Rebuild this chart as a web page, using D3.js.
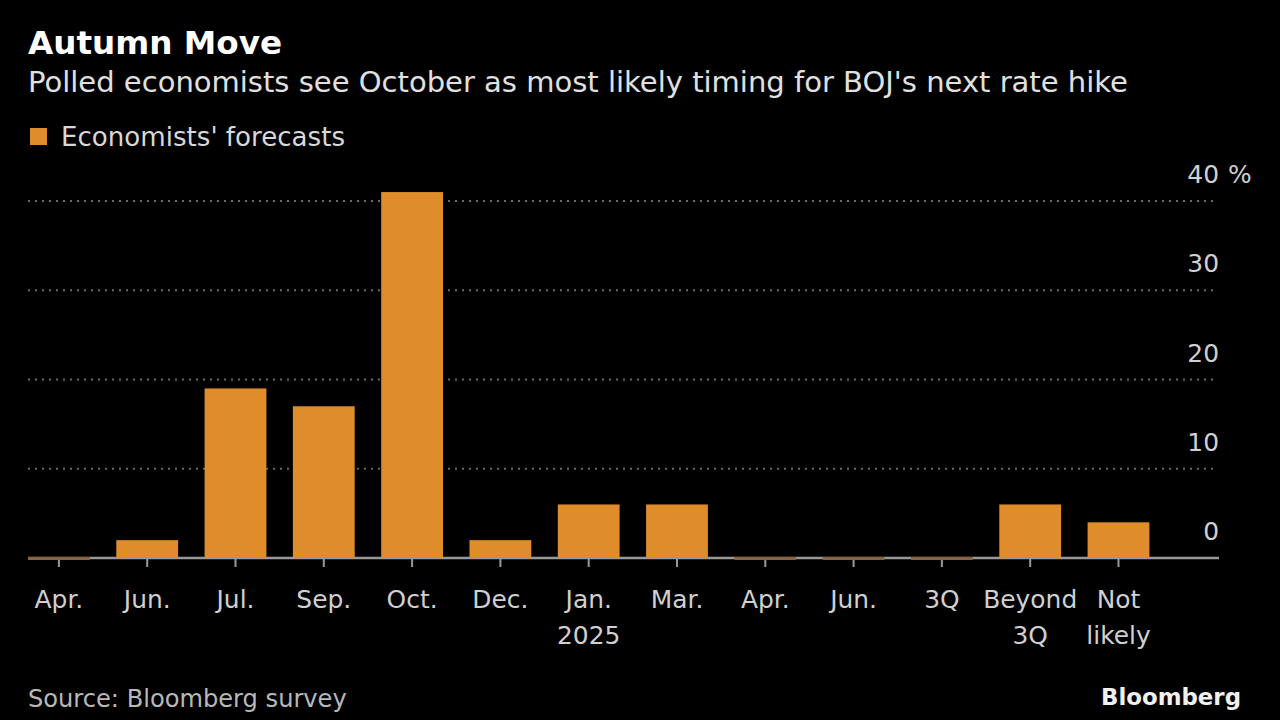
<!DOCTYPE html>
<html>
<head>
<meta charset="utf-8">
<script src="https://cdn.jsdelivr.net/npm/d3@7"></script>
<style>
  html, body { margin: 0; padding: 0; background: #000; }
  svg { display: block; }
  text { font-family: "DejaVu Sans", sans-serif; }
</style>
</head>
<body>
<svg id="chart" width="1280" height="720"></svg>
<script>
const categories = ["Apr.", "Jun.", "Jul.", "Sep.", "Oct.", "Dec.", "Jan.\n2025", "Mar.", "Apr.", "Jun.", "3Q", "Beyond\n3Q", "Not\nlikely"];
const forecasts = [0, 2, 19, 17, 41, 2, 6, 6, 0, 0, 0, 6, 4];
const yTicks = [0, 10, 20, 30, 40];

const title = "Autumn Move";
const subtitle = "Polled economists see October as most likely timing for BOJ's next rate hike";
const legendLabel = "Economists' forecasts";
const source = "Source: Bloomberg survey";

const W = 1280, H = 720;
const svg = d3.select("#chart");
svg.append("rect").attr("width", W).attr("height", H).attr("fill", "#000");

const BAR = "#df8d2a";
const idx = categories.map((_, i) => i);

// scale font so the text spans the reference width
function fit(sel, target) {
  const w = sel.node().getComputedTextLength();
  const fs = parseFloat(sel.attr("font-size"));
  sel.attr("font-size", (fs * target / w).toFixed(2));
  return sel;
}

const x = d3.scaleBand().domain(idx).range([28, 1149.4]).paddingInner(0.3).paddingOuter(0);
const y = d3.scaleLinear().domain([0, 40]).range([558, 201]);

// measure axis font size from "Beyond" (~94px wide in reference)
const probe = svg.append("text").attr("font-size", 24).text("Beyond");
fit(probe, 94);
const AX = parseFloat(probe.attr("font-size"));
probe.remove();

// gridlines
svg.append("g").selectAll("line").data(yTicks.filter(d => d > 0)).join("line")
  .attr("x1", 28).attr("x2", 1218)
  .attr("y1", d => y(d)).attr("y2", d => y(d))
  .attr("stroke", "#6a6a6a").attr("stroke-width", 2)
  .attr("stroke-dasharray", "2,5");

// y labels
svg.append("g").selectAll("text").data(yTicks).join("text")
  .attr("x", 1219).attr("y", d => y(d) - 18)
  .attr("text-anchor", "end")
  .attr("fill", "#d0d0d0").attr("font-size", AX)
  .text(d => d);
svg.append("text").attr("x", 1228).attr("y", y(40) - 18)
  .attr("fill", "#d0d0d0").attr("font-size", AX).text("%");

// x axis
const xAxis = svg.append("g").attr("transform", "translate(0,558)")
  .call(d3.axisBottom(x).tickSize(9).tickFormat(""));
xAxis.select(".domain").remove();
xAxis.selectAll(".tick line").attr("stroke", "#999").attr("stroke-width", 2);
svg.append("line").attr("x1", 28).attr("x2", 1219).attr("y1", 558).attr("y2", 558)
  .attr("stroke", "#999").attr("stroke-width", 2.5);

// x labels
svg.append("g").selectAll("text").data(idx).join("text")
  .attr("text-anchor", "middle")
  .attr("fill", "#d0d0d0").attr("font-size", AX)
  .each(function(i) {
    const lines = categories[i].split("\n");
    d3.select(this).selectAll("tspan").data(lines).join("tspan")
      .attr("x", x(i) + x.bandwidth() / 2)
      .attr("y", (d, k) => 608 + k * 36)
      .text(d => d);
  });

// bars
svg.append("g").selectAll("rect").data(idx).join("rect")
  .attr("x", i => x(i))
  .attr("width", x.bandwidth())
  .attr("y", i => forecasts[i] > 0 ? y(forecasts[i]) : y(0) - 1)
  .attr("height", i => forecasts[i] > 0 ? y(0) - y(forecasts[i]) : 3)
  .attr("fill", i => forecasts[i] > 0 ? BAR : "#8a6440");

// title etc.
fit(svg.append("text").attr("x", 28).attr("y", 54).attr("fill", "#fff")
  .attr("font-size", 30).attr("font-weight", "bold").text(title), 254);
fit(svg.append("text").attr("x", 28).attr("y", 92).attr("fill", "#e0e0e0")
  .attr("font-size", 26).text(subtitle), 1100);

svg.append("rect").attr("x", 30).attr("y", 128).attr("width", 17).attr("height", 17).attr("fill", BAR);
fit(svg.append("text").attr("x", 61).attr("y", 146).attr("fill", "#d8d8d8")
  .attr("font-size", 25).text(legendLabel), 284);

fit(svg.append("text").attr("x", 28).attr("y", 707).attr("fill", "#b8b8b8")
  .attr("font-size", 23).text(source), 319);
fit(svg.append("text").attr("x", 1241).attr("y", 705).attr("text-anchor", "end")
  .attr("fill", "#f0f0f0").attr("font-size", 24).attr("font-weight", "bold")
  .text("Bloomberg"), 140);
</script>
</body>
</html>
